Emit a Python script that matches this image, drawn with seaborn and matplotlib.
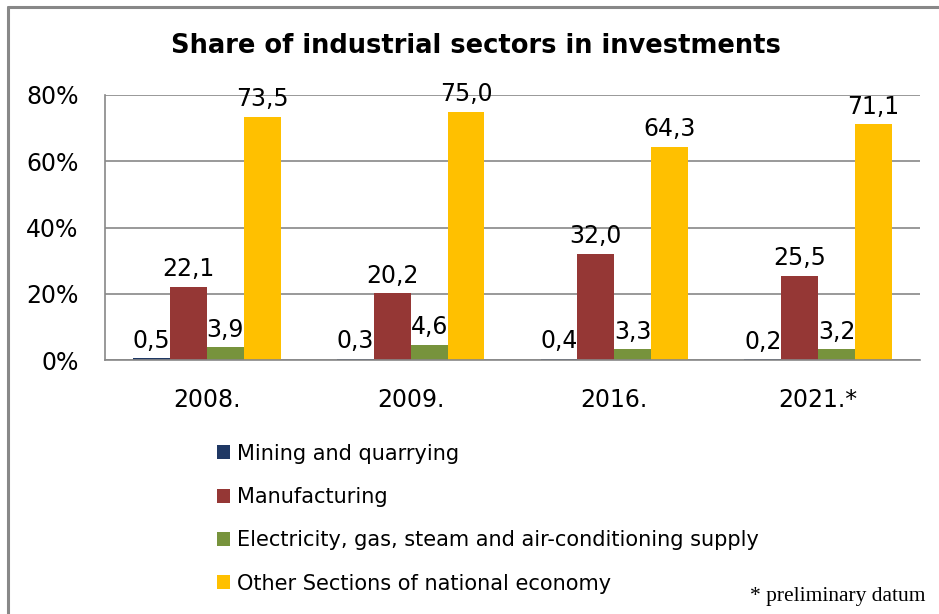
import pandas as pd
import seaborn as sns
import matplotlib.pyplot as plt
from matplotlib.ticker import PercentFormatter
from matplotlib.patches import Patch
from matplotlib.lines import Line2D

years = ['2008.', '2009.', '2016.', '2021.*']
sectors = ['Mining and quarrying', 'Manufacturing',
           'Electricity, gas, steam and air-conditioning supply',
           'Other Sections of national economy']
mining = [0.5, 0.3, 0.4, 0.2]
manufacturing = [22.1, 20.2, 32.0, 25.5]
electricity = [3.9, 4.6, 3.3, 3.2]
other = [73.5, 75.0, 64.3, 71.1]
colors = ['#1F3864', '#953735', '#77933C', '#FFC000']

rows = []
for s, vals in zip(sectors, [mining, manufacturing, electricity, other]):
    for y, v in zip(years, vals):
        rows.append({'Year': y, 'Sector': s, 'Share': v})
df = pd.DataFrame(rows)

sns.set_style('white')
plt.rcParams['font.family'] = ['DejaVu Sans']
plt.rcParams['text.color'] = 'black'
plt.rcParams['xtick.labelcolor'] = 'black'
plt.rcParams['ytick.labelcolor'] = 'black'

fig = plt.figure(figsize=(9.39, 6.14), dpi=100)
ax = fig.add_axes([105/939, 1-360/614, 815/939, 265/614])

sns.barplot(data=df, x='Year', y='Share', hue='Sector', hue_order=sectors,
            palette=colors, width=0.725, gap=0, saturation=1, legend=False,
            linewidth=0, ax=ax)

for cont in ax.containers:
    labs = [f'{b.get_height():.1f}'.replace('.', ',') for b in cont]
    ax.bar_label(cont, labels=labs, padding=4, fontsize=17, color='black')

ax.set_ylim(0, 80)
ax.set_xlim(-0.5, 3.5)
ax.set_yticks([0, 20, 40, 60, 80])
ax.yaxis.set_major_formatter(PercentFormatter(xmax=100, decimals=0))
ax.yaxis.grid(True, color='#888888', lw=1.2)
ax.set_axisbelow(True)
ax.set_xlabel('')
ax.set_ylabel('')
for sp in ['top', 'right']:
    ax.spines[sp].set_visible(False)
for sp in ['left', 'bottom']:
    ax.spines[sp].set_color('#888888')
    ax.spines[sp].set_linewidth(1.2)
ax.tick_params(axis='y', length=7, color='#888888', width=1.2, labelsize=17, pad=12)
ax.tick_params(axis='x', which='major', length=0, labelsize=17, pad=20)
ax.set_xticks([-0.5, 0.5, 1.5, 2.5, 3.5], minor=True)
ax.tick_params(axis='x', which='minor', length=7, color='#888888', width=1.2)

fig.text(0.507, 1-46/614, 'Share of industrial sectors in investments',
         ha='center', va='center', fontsize=18.5, fontweight='bold')

handles = [Patch(facecolor=c, edgecolor='none') for c in colors]
fig.legend(handles, sectors, loc='upper left', bbox_to_anchor=(198/939, 1-425/614),
           frameon=False, fontsize=15, handlelength=0.65, handleheight=0.65,
           handletextpad=0.3, labelspacing=1.12)

fig.text(925/939, 1-597/614, '* preliminary datum', ha='right', va='center',
         fontsize=15.5, family='Liberation Serif')

fig.add_artist(Line2D([8/939, 8/939], [0, 1-7/614], color='#888888', lw=2.2))
fig.add_artist(Line2D([8/939, 1], [1-7/614, 1-7/614], color='#888888', lw=2.2))

fig.savefig('out.png', dpi=100)
